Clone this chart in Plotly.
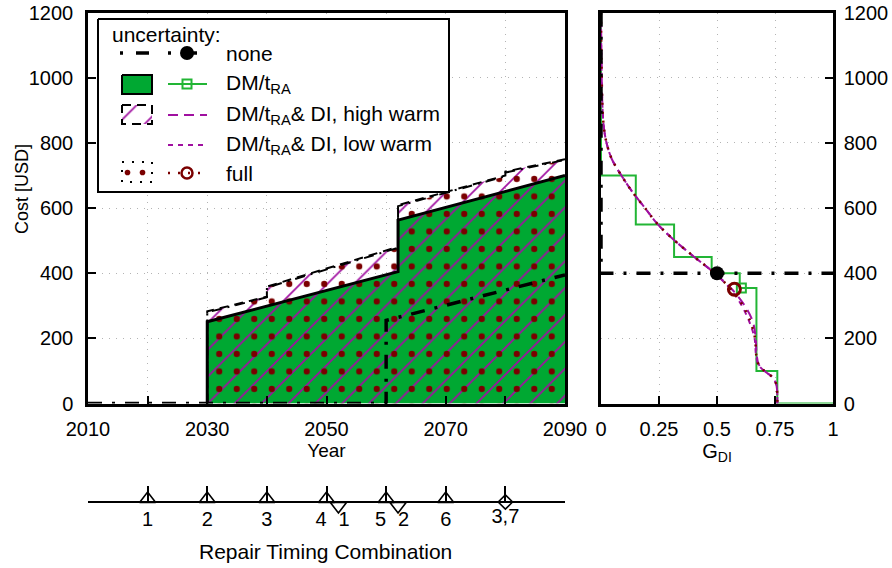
import plotly.graph_objects as go

W, H = 892, 568
FONT = "Liberation Sans, Arial, Helvetica, sans-serif"
GREEN_FILL = "#00A832"
GREEN_LINE = "#22B535"
MAG = "#A010A0"
DRED = "#7A0000"
GRID = "#b4b4b4"

# ---------------- data ----------------
# Left panel: cost trajectories over time
dm_years = [2030, 2030, 2062, 2062, 2090]
dm_cost = [0, 251, 405, 563, 700]

hw_years = [2030, 2030, 2040, 2040, 2062, 2062, 2080, 2080, 2090]
hw_cost = [0, 283, 328, 359, 481, 609, 700, 712, 750]

full_years = [2030, 2030, 2040, 2040, 2062, 2062, 2080, 2080, 2090]
full_cost = [0, 280, 326, 356, 478, 606, 698, 709, 748]

none_years = [2010, 2060, 2060, 2090]
none_cost = [0, 0, 255, 395]

x_tickvals = [2010, 2030, 2050, 2070, 2090]

# Right panel: G_DI vs cost
curve_cost = [1200, 1100, 1000, 900, 850, 800, 750, 700, 650, 600, 550, 500, 450,
              400, 350, 300, 250, 200, 150, 120, 100, 80, 60, 40, 20, 0]
g_high = [0.0, 0.001, 0.003, 0.007, 0.012, 0.024, 0.047, 0.088, 0.135, 0.19, 0.245, 0.318, 0.402,
          0.49, 0.565, 0.62, 0.655, 0.667, 0.671, 0.68, 0.705, 0.74, 0.755, 0.759, 0.76, 0.76]
g_low = [0.0, 0.001, 0.003, 0.007, 0.012, 0.024, 0.047, 0.088, 0.135, 0.19, 0.245, 0.318, 0.402,
         0.49, 0.56, 0.607, 0.64, 0.662, 0.668, 0.678, 0.703, 0.74, 0.755, 0.759, 0.76, 0.76]
g_full = [0.0, 0.001, 0.003, 0.007, 0.012, 0.024, 0.047, 0.088, 0.135, 0.19, 0.245, 0.318, 0.402,
          0.49, 0.562, 0.612, 0.645, 0.664, 0.669, 0.679, 0.704, 0.74, 0.755, 0.759, 0.76, 0.76]

dm_step_g = [0, 0, 0.15, 0.15, 0.315, 0.315, 0.477, 0.477, 0.598, 0.598, 0.67, 0.67, 0.76, 0.76, 1.0]
dm_step_cost = [1200, 700, 700, 550, 550, 450, 450, 400, 400, 355, 355, 100, 100, 0, 0]

none_step_g = [0, 0, 1]
none_step_cost = [1200, 400, 400]

none_pt_g, none_pt_cost = [0.5], [400]
dm_pt_g, dm_pt_cost = [0.605], [355]
full_pt_g, full_pt_cost = [0.575], [351]

g_tickvals = [0, 0.25, 0.5, 0.75, 1]
g_ticktext = ["0", "0.25", "0.5", "0.75", "1"]

# Bottom: repair timing combinations
up_years = [2020, 2030, 2040, 2050, 2060, 2070]
up_labels = ["1", "2", "3", "4", "5", "6"]
down_years = [2052, 2062]
down_labels = ["1", "2"]
both_years = [2080]
both_labels = ["3,7"]

# ---------------- layout helpers ----------------
def px_x(p):
    return p / W

def px_y(p):
    return (H - p) / H

X1 = [px_x(88), px_x(565)]
X2 = [px_x(601), px_x(833)]
Y12 = [px_y(403.5), px_y(12.7)]

fig = go.Figure()

# ---------- left panel ----------
fig.add_trace(go.Scatter(x=dm_years, y=dm_cost, mode="lines", fill="tozeroy",
                         fillcolor=GREEN_FILL, line=dict(color="black", width=0),
                         xaxis="x", yaxis="y", hoverinfo="skip"))
fig.add_trace(go.Scatter(x=hw_years, y=hw_cost, mode="lines", fill="tozeroy",
                         fillcolor="rgba(0,0,0,0)", line=dict(width=0),
                         fillpattern=dict(shape="/", fgcolor=MAG, bgcolor="rgba(0,0,0,0)",
                                          size=19, solidity=0.09, fillmode="replace"),
                         xaxis="x", yaxis="y", hoverinfo="skip"))
fig.add_trace(go.Scatter(x=full_years, y=full_cost, mode="lines", fill="tozeroy",
                         fillcolor="rgba(0,0,0,0)", line=dict(width=0),
                         fillpattern=dict(shape=".", fgcolor=DRED, bgcolor="rgba(0,0,0,0)",
                                          size=17.5, solidity=0.1, fillmode="replace"),
                         xaxis="x", yaxis="y", hoverinfo="skip"))
# boundaries
fig.add_trace(go.Scatter(x=hw_years, y=hw_cost, mode="lines",
                         line=dict(color="black", width=2, dash="9px,6px"),
                         xaxis="x", yaxis="y", hoverinfo="skip"))
fig.add_trace(go.Scatter(x=full_years, y=full_cost, mode="lines",
                         line=dict(color="black", width=2, dash="10px,6px,2px,6px"),
                         xaxis="x", yaxis="y", hoverinfo="skip"))
fig.add_trace(go.Scatter(x=dm_years, y=dm_cost, mode="lines",
                         line=dict(color="black", width=3),
                         xaxis="x", yaxis="y", hoverinfo="skip"))
fig.add_trace(go.Scatter(x=none_years, y=none_cost, mode="lines",
                         line=dict(color="black", width=3.5, dash="14px,10px,3px,10px"),
                         xaxis="x", yaxis="y", hoverinfo="skip"))

# ---------- right panel ----------
fig.add_trace(go.Scatter(x=dm_step_g, y=dm_step_cost, mode="lines",
                         line=dict(color=GREEN_LINE, width=2),
                         xaxis="x2", yaxis="y2", hoverinfo="skip"))
fig.add_trace(go.Scatter(x=g_high, y=curve_cost, mode="lines", line_shape="spline",
                         line=dict(color=MAG, width=2, dash="10px,6px"),
                         xaxis="x2", yaxis="y2", hoverinfo="skip"))
fig.add_trace(go.Scatter(x=g_low, y=curve_cost, mode="lines", line_shape="spline",
                         line=dict(color=MAG, width=2, dash="5px,5px"),
                         xaxis="x2", yaxis="y2", hoverinfo="skip"))
fig.add_trace(go.Scatter(x=g_full, y=curve_cost, mode="lines", line_shape="spline",
                         line=dict(color=DRED, width=2.5, dash="2px,7px"),
                         xaxis="x2", yaxis="y2", hoverinfo="skip"))
fig.add_trace(go.Scatter(x=none_step_g, y=none_step_cost, mode="lines",
                         line=dict(color="black", width=3.5, dash="14px,10px,3px,10px"),
                         xaxis="x2", yaxis="y2", hoverinfo="skip"))
fig.add_trace(go.Scatter(x=none_pt_g, y=none_pt_cost, mode="markers",
                         marker=dict(symbol="circle", size=14, color="black"),
                         xaxis="x2", yaxis="y2", hoverinfo="skip"))
fig.add_trace(go.Scatter(x=dm_pt_g, y=dm_pt_cost, mode="markers",
                         marker=dict(symbol="square-open", size=9, color=GREEN_LINE,
                                     line=dict(width=2, color=GREEN_LINE)),
                         xaxis="x2", yaxis="y2", hoverinfo="skip"))
fig.add_trace(go.Scatter(x=full_pt_g, y=full_pt_cost, mode="markers",
                         marker=dict(symbol="circle-open", size=12, color=DRED,
                                     line=dict(width=3, color=DRED)),
                         xaxis="x2", yaxis="y2", hoverinfo="skip"))

# ---------- bottom repair timing axis ----------
LBL_FONT = dict(family=FONT, size=20, color="black")
fig.add_trace(go.Scatter(x=up_years, y=[3] * len(up_years), mode="markers",
                         marker=dict(symbol="triangle-up-open", size=14, color="black",
                                     line=dict(width=1.6, color="black")),
                         xaxis="x3", yaxis="y3", cliponaxis=False, hoverinfo="skip"))
fig.add_trace(go.Scatter(x=down_years, y=[-4] * len(down_years), mode="markers",
                         marker=dict(symbol="triangle-down-open", size=14, color="black",
                                     line=dict(width=1.6, color="black")),
                         xaxis="x3", yaxis="y3", cliponaxis=False, hoverinfo="skip"))
fig.add_trace(go.Scatter(x=both_years, y=[0] * len(both_years), mode="markers",
                         marker=dict(symbol="diamond-open", size=11, color="black",
                                     line=dict(width=1.6, color="black")),
                         xaxis="x3", yaxis="y3", cliponaxis=False, hoverinfo="skip"))
# labels: shift apart where an up and a down marker sit close together
up_pos = ["middle left" if any(abs(u - d) < 5 for d in down_years) else "middle center"
          for u in up_years]
fig.add_trace(go.Scatter(x=up_years, y=[-19] * len(up_years), mode="text", text=up_labels,
                         textposition=up_pos, textfont=LBL_FONT,
                         xaxis="x3", yaxis="y3", cliponaxis=False, hoverinfo="skip"))
fig.add_trace(go.Scatter(x=down_years, y=[-19] * len(down_years), mode="text", text=down_labels,
                         textposition="middle right", textfont=LBL_FONT,
                         xaxis="x3", yaxis="y3", cliponaxis=False, hoverinfo="skip"))
fig.add_trace(go.Scatter(x=both_years, y=[-16] * len(both_years), mode="text", text=both_labels,
                         textposition="middle center", textfont=LBL_FONT,
                         xaxis="x3", yaxis="y3", cliponaxis=False, hoverinfo="skip"))

# ---------- custom legend (pixel coordinate overlay) ----------
L = dict(xaxis="x4", yaxis="y4", hoverinfo="skip", cliponaxis=False)
fig.add_trace(go.Scatter(x=[98, 449, 449, 98, 98], y=[19, 19, 192, 192, 19], mode="lines",
                         fill="toself", fillcolor="white", line=dict(color="black", width=2), **L))
# row 1: none
fig.add_trace(go.Scatter(x=[120, 153], y=[53, 53], mode="lines",
                         line=dict(color="black", width=3.5, dash="3px,13px,13px,10px"), **L))
fig.add_trace(go.Scatter(x=[168, 207], y=[53, 53], mode="lines",
                         line=dict(color="black", width=3.5, dash="3px,13px,13px,10px"), **L))
fig.add_trace(go.Scatter(x=[187], y=[53], mode="markers",
                         marker=dict(symbol="circle", size=14, color="black"), **L))
# row 2: DM/tRA
fig.add_trace(go.Scatter(x=[122, 152, 152, 122, 122], y=[75, 75, 94, 94, 75], mode="lines",
                         fill="toself", fillcolor=GREEN_FILL, line=dict(color="black", width=2), **L))
fig.add_trace(go.Scatter(x=[168, 207], y=[84, 84], mode="lines",
                         line=dict(color=GREEN_LINE, width=2), **L))
fig.add_trace(go.Scatter(x=[187], y=[84], mode="markers",
                         marker=dict(symbol="square-open", size=9, color=GREEN_LINE,
                                     line=dict(width=2, color=GREEN_LINE)), **L))
# row 3: high warm
fig.add_trace(go.Scatter(x=[122, 152, 152, 122, 122], y=[105, 105, 124, 124, 105], mode="lines",
                         fill="toself", fillcolor="rgba(0,0,0,0)",
                         fillpattern=dict(shape="/", fgcolor=MAG, bgcolor="rgba(0,0,0,0)",
                                          size=19, solidity=0.09, fillmode="replace"),
                         line=dict(color="black", width=2, dash="9px,6px"), **L))
fig.add_trace(go.Scatter(x=[168, 207], y=[115, 115], mode="lines",
                         line=dict(color=MAG, width=2, dash="10px,6px"), **L))
# row 4: low warm
fig.add_trace(go.Scatter(x=[168, 207], y=[145, 145], mode="lines",
                         line=dict(color=MAG, width=2, dash="5px,5px"), **L))
# row 5: full
fig.add_trace(go.Scatter(x=[122, 152, 152, 122, 122], y=[162, 162, 182, 182, 162], mode="lines",
                         fill="toself", fillcolor="rgba(0,0,0,0)",
                         fillpattern=dict(shape=".", fgcolor=DRED, bgcolor="rgba(0,0,0,0)",
                                          size=15, solidity=0.11, fillmode="replace"),
                         line=dict(color="black", width=2, dash="2px,8px"), **L))
fig.add_trace(go.Scatter(x=[168, 207], y=[173, 173], mode="lines",
                         line=dict(color=DRED, width=2.5, dash="2px,8px"), **L))
fig.add_trace(go.Scatter(x=[187], y=[173], mode="markers",
                         marker=dict(symbol="circle-open", size=11, color=DRED,
                                     line=dict(width=2.5, color=DRED)), **L))

leg_font = dict(family=FONT, size=21, color="black")
annotations = [
    dict(x=110, y=34, xref="x4", yref="y4", text="uncertainty:", showarrow=False,
         xanchor="left", yanchor="middle", font=leg_font),
]
for ytxt, txt in [(53, "none"), (84, "DM/t<sub>RA</sub>"),
                  (115, "DM/t<sub>RA</sub>& DI, high warm"),
                  (145, "DM/t<sub>RA</sub>& DI, low warm"), (173, "full")]:
    annotations.append(dict(x=224, y=ytxt, xref="x4", yref="y4", text=txt, showarrow=False,
                            xanchor="left", yanchor="middle", font=leg_font))
annotations.append(dict(x=325, y=551, xref="x4", yref="y4", text="Repair Timing Combination",
                        showarrow=False, xanchor="center", yanchor="middle",
                        font=dict(family=FONT, size=21, color="black")))
annotations.append(dict(x=22, y=189, xref="x4", yref="y4", text="Cost [USD]", textangle=-90,
                        showarrow=False, xanchor="center", yanchor="middle",
                        font=dict(family=FONT, size=18, color="black")))

axis_common = dict(showline=True, linecolor="black", linewidth=2.5, mirror=True,
                   ticks="inside", ticklen=8, tickwidth=2, tickcolor="black",
                   showgrid=True, gridcolor=GRID, gridwidth=1.2, griddash="1px,6px",
                   zeroline=False, automargin=False,
                   tickfont=dict(family=FONT, size=20, color="black"))

fig.update_layout(
    width=W, height=H, margin=dict(l=0, r=0, t=0, b=0, autoexpand=False),
    paper_bgcolor="white", plot_bgcolor="rgba(0,0,0,0)",
    showlegend=False, font=dict(family=FONT, size=20, color="black"),
    xaxis=dict(domain=X1, anchor="y", range=[2010, 2090], tickmode="array",
               tickvals=x_tickvals, ticklabelstandoff=6,
               minor=dict(dtick=10, tick0=2010, ticks="inside", ticklen=8, tickwidth=2,
                          tickcolor="black", showgrid=True, gridcolor=GRID, gridwidth=1.2,
                          griddash="1px,6px"),
               title=dict(text="Year", standoff=4, font=dict(family=FONT, size=19)),
               **axis_common),
    yaxis=dict(domain=Y12, anchor="x", range=[0, 1200], dtick=200, ticklabelstandoff=8,
               **axis_common),
    xaxis2=dict(domain=X2, anchor="y2", range=[0, 1], tickmode="array",
                tickvals=g_tickvals, ticktext=g_ticktext, ticklabelstandoff=6,
                title=dict(text="G<sub>DI</sub>", standoff=4, font=dict(family=FONT, size=20)),
                **axis_common),
    yaxis2=dict(domain=Y12, anchor="x2", range=[0, 1200], dtick=200, side="right",
                ticklabelstandoff=4, **axis_common),
    xaxis3=dict(domain=X1, anchor="free", position=px_y(502), range=[2010, 2090],
                tick0=2010, dtick=10, ticks="inside", ticklen=15, tickwidth=1.5,
                tickcolor="black", showline=True, linecolor="black", linewidth=2,
                showticklabels=False, showgrid=False, zeroline=False, automargin=False),
    yaxis3=dict(domain=[px_y(545), px_y(470)], anchor="x3", range=[-43, 32],
                visible=False, showgrid=False, zeroline=False, automargin=False),
    xaxis4=dict(domain=[0, 1], anchor="y4", range=[0, W], visible=False,
                showgrid=False, zeroline=False, automargin=False),
    yaxis4=dict(domain=[0, 1], anchor="x4", range=[H, 0], visible=False,
                showgrid=False, zeroline=False, automargin=False),
    annotations=annotations,
)

fig.write_html("out.html", config={"displayModeBar": False},
               post_script="document.body.style.margin='0px';")
